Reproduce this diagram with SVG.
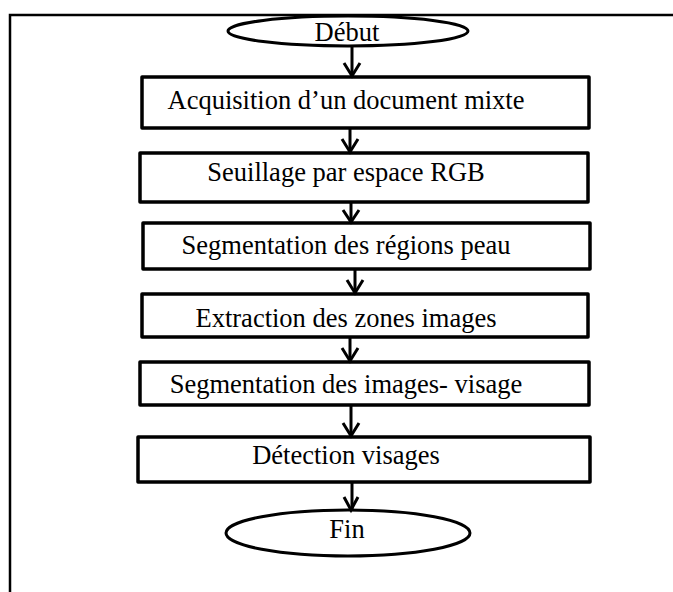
<svg xmlns="http://www.w3.org/2000/svg" width="673" height="592" viewBox="0 0 673 592">
  <style>
    .frame { fill: none; stroke: #000; stroke-width: 2.5; }
    .box { fill: #fff; stroke: #000; stroke-width: 3.5; stroke-linejoin: round; }
    .term { fill: #fff; stroke: #000; stroke-width: 3; }
    .lbl { font-family: "Liberation Serif", "Times New Roman", serif; font-size: 26.5px; fill: #000; text-anchor: middle; }
    .edge { fill: none; stroke: #000; stroke-width: 3; }
    .head { fill: none; stroke: #000; stroke-width: 3; stroke-linejoin: miter; }
  </style>
  <rect width="673" height="592" fill="#fff"/>

  <!-- outer frame: top and left rules -->
  <path class="frame" d="M10,592 V15 H673"/>

  <g id="debut">
    <ellipse class="term" cx="348" cy="31" rx="120" ry="15"/>
    <text class="lbl" x="347" y="41">Début</text>
  </g>

  <g id="acquisition">
    <rect class="box" x="142" y="77" width="447" height="51"/>
    <text class="lbl" x="346" y="109">Acquisition d’un document mixte</text>
  </g>

  <g id="seuillage">
    <rect class="box" x="140" y="153" width="448" height="49"/>
    <text class="lbl" x="346" y="181">Seuillage par espace RGB</text>
  </g>

  <g id="segmentation-peau">
    <rect class="box" x="143" y="223" width="447" height="46"/>
    <text class="lbl" x="346" y="254">Segmentation des régions peau</text>
  </g>

  <g id="extraction">
    <rect class="box" x="142" y="294" width="446" height="43"/>
    <text class="lbl" x="346" y="327">Extraction des zones images</text>
  </g>

  <g id="segmentation-visage">
    <rect class="box" x="140" y="362" width="449" height="43"/>
    <text class="lbl" x="346" y="393">Segmentation des images- visage</text>
  </g>

  <g id="detection">
    <rect class="box" x="138" y="437" width="452" height="45"/>
    <text class="lbl" x="346" y="464">Détection visages</text>
  </g>

  <g id="fin">
    <ellipse class="term" cx="348" cy="533" rx="122" ry="23"/>
    <text class="lbl" x="347" y="538">Fin</text>
  </g>

  <g id="connectors">
    <path class="edge" d="M352,46 V76"/>
    <path class="head" d="M344,63 L352,76 L360,63"/>
    <path class="edge" d="M350,128 V152"/>
    <path class="head" d="M342,139 L350,152 L358,139"/>
    <path class="edge" d="M351,202 V222"/>
    <path class="head" d="M343,210 L351,222 L359,210"/>
    <path class="edge" d="M355,269 V293"/>
    <path class="head" d="M347,280 L355,293 L363,280"/>
    <path class="edge" d="M350,337 V361"/>
    <path class="head" d="M342,348 L350,361 L358,348"/>
    <path class="edge" d="M351,405 V436"/>
    <path class="head" d="M343,423 L351,436 L359,423"/>
    <path class="edge" d="M352,482 V510"/>
    <path class="head" d="M344,497 L351,510 L358,497"/>
  </g>
</svg>
